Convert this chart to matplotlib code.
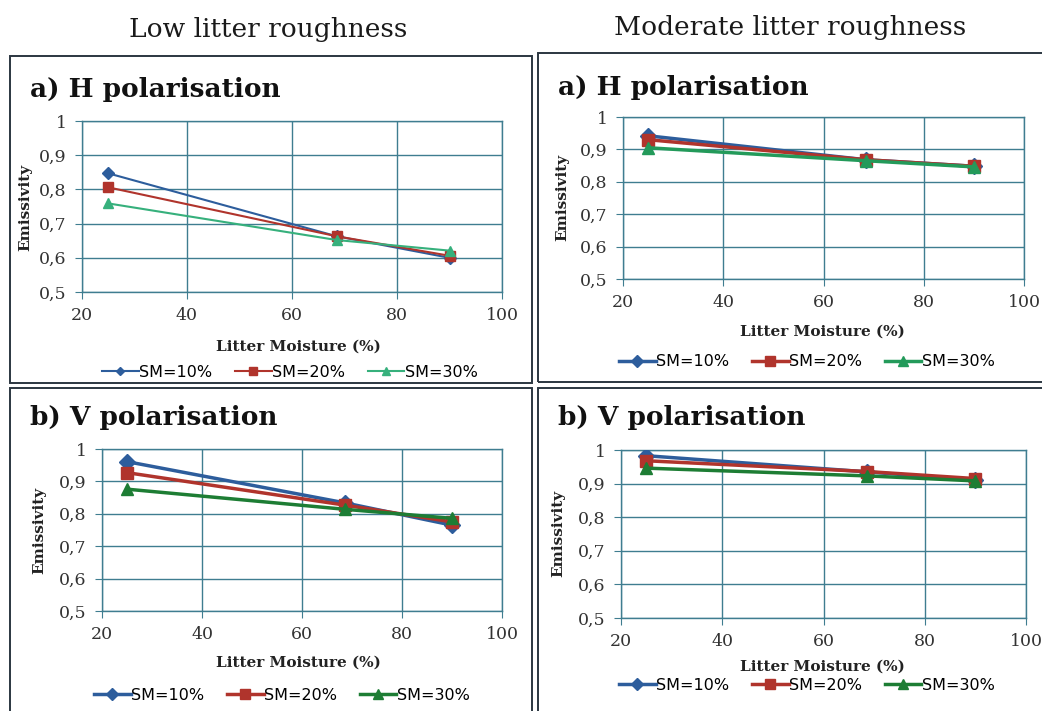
import matplotlib
matplotlib.use("Agg")
import matplotlib.pyplot as plt
from matplotlib.patches import Rectangle

W, H = 1042, 711

# ---------------- data ----------------
litter_moisture = [25, 68.5, 90]
series_labels = ["SM=10%", "SM=20%", "SM=30%"]
column_titles = ["Low litter roughness", "Moderate litter roughness"]
panel_titles = ["a) H polarisation", "b) V polarisation"]

low_H_sm10 = [0.847, 0.663, 0.600]
low_H_sm20 = [0.806, 0.663, 0.606]
low_H_sm30 = [0.759, 0.652, 0.621]

mod_H_sm10 = [0.942, 0.868, 0.848]
mod_H_sm20 = [0.930, 0.868, 0.848]
mod_H_sm30 = [0.905, 0.865, 0.846]

low_V_sm10 = [0.961, 0.834, 0.765]
low_V_sm20 = [0.927, 0.827, 0.775]
low_V_sm30 = [0.876, 0.814, 0.786]

mod_V_sm10 = [0.983, 0.935, 0.910]
mod_V_sm20 = [0.968, 0.936, 0.915]
mod_V_sm30 = [0.946, 0.923, 0.908]

x_ticks = [20, 40, 60, 80, 100]
x_ticklabels = ["20", "40", "60", "80", "100"]
y_ticks = [0.5, 0.6, 0.7, 0.8, 0.9, 1.0]
y_ticklabels = ["0,5", "0,6", "0,7", "0,8", "0,9", "1"]

# ---------------- style ----------------
GRID = "#3f7d90"
BOX = "#2b3640"
BLUE = "#2d5d9c"
RED = "#b0342c"
SERIF = "DejaVu Serif"

fig = plt.figure(figsize=(W / 100, H / 100), dpi=100)
fig.patch.set_facecolor("white")


def fx(x):
    return x / W


def fy(y):
    return 1 - y / H


def rect(l, t, r, b):
    return [l / W, 1 - b / H, (r - l) / W, (b - t) / H]


# panel boxes
for (l, t, r, b) in [(10, 56, 532, 383), (10, 388, 532, 720),
                     (538, 53, 1050, 382), (538, 388, 1050, 720)]:
    fig.add_artist(Rectangle((fx(l), fy(b)), (r - l) / W, (b - t) / H,
                             transform=fig.transFigure, fill=False,
                             edgecolor=BOX, linewidth=1.4))

# column titles
fig.text(fx(268), fy(30), column_titles[0], ha="center", va="center",
         family=SERIF, fontsize=19, color="#1a1a1a")
fig.text(fx(790), fy(28), column_titles[1], ha="center", va="center",
         family=SERIF, fontsize=19, color="#1a1a1a")

panels = [
    dict(r=(82, 121, 502, 292), title=(30, 90), tstr=panel_titles[0],
         yl=(25, 207), xl=(298, 347), leg=(290, 372),
         data=[low_H_sm10, low_H_sm20, low_H_sm30], green="#36b07c", lw=1.5, ms=7),
    dict(r=(623, 117, 1024, 279), title=(558, 87), tstr=panel_titles[0],
         yl=(562, 197), xl=(822, 332), leg=(807, 362),
         data=[mod_H_sm10, mod_H_sm20, mod_H_sm30], green="#239a5a", lw=2.5, ms=9),
    dict(r=(102, 449, 502, 611), title=(30, 417), tstr=panel_titles[1],
         yl=(39, 530), xl=(298, 663), leg=(282, 695),
         data=[low_V_sm10, low_V_sm20, low_V_sm30], green="#1d7d34", lw=2.5, ms=9),
    dict(r=(621, 450, 1026, 618), title=(558, 418), tstr=panel_titles[1],
         yl=(558, 533), xl=(822, 667), leg=(807, 685),
         data=[mod_V_sm10, mod_V_sm20, mod_V_sm30], green="#1d7d34", lw=2.5, ms=9),
]

for p in panels:
    ax = fig.add_axes(rect(*p["r"]))
    colors = [BLUE, RED, p["green"]]
    markers = ["D", "s", "^"]
    sizes = [p["ms"] * 0.85, p["ms"], p["ms"]]
    handles = []
    for vals, c, m, s, lab in zip(p["data"], colors, markers, sizes, series_labels):
        h, = ax.plot(litter_moisture, vals, color=c, marker=m, markersize=s,
                     linewidth=p["lw"], label=lab, zorder=3)
        handles.append(h)
    ax.set_xlim(20, 100)
    ax.set_ylim(0.5, 1.0)
    ax.set_xticks(x_ticks)
    ax.set_xticklabels(x_ticklabels)
    ax.set_yticks(y_ticks)
    ax.set_yticklabels(y_ticklabels)
    ax.grid(True, color=GRID, linewidth=1.0)
    ax.set_axisbelow(True)
    for s in ax.spines.values():
        s.set_color(GRID)
        s.set_linewidth(1.0)
    ax.tick_params(axis="both", direction="out", length=5, color=GRID,
                   labelsize=12.5, labelcolor="#333333", pad=6)
    for lbl in ax.get_xticklabels() + ax.get_yticklabels():
        lbl.set_family(SERIF)
    fig.text(fx(p["title"][0]), fy(p["title"][1]), p["tstr"], ha="left",
             va="center", family=SERIF, fontweight="bold", fontsize=19,
             color="#111111")
    fig.text(fx(p["yl"][0]), fy(p["yl"][1]), "Emissivity", rotation=90,
             ha="center", va="center", family=SERIF, fontweight="bold",
             fontsize=11, color="#222222")
    fig.text(fx(p["xl"][0]), fy(p["xl"][1]), "Litter Moisture (%)",
             ha="center", va="center", family=SERIF, fontweight="bold",
             fontsize=11, color="#222222")
    fig.legend(handles=handles, loc="center",
               bbox_to_anchor=(fx(p["leg"][0]), fy(p["leg"][1])),
               ncol=3, frameon=False, handlelength=2.3, columnspacing=1.4,
               handletextpad=0.05, markerscale=0.75,
               prop={"family": "DejaVu Sans", "size": 11.5})

fig.savefig("out.png", dpi=100, facecolor="white")
